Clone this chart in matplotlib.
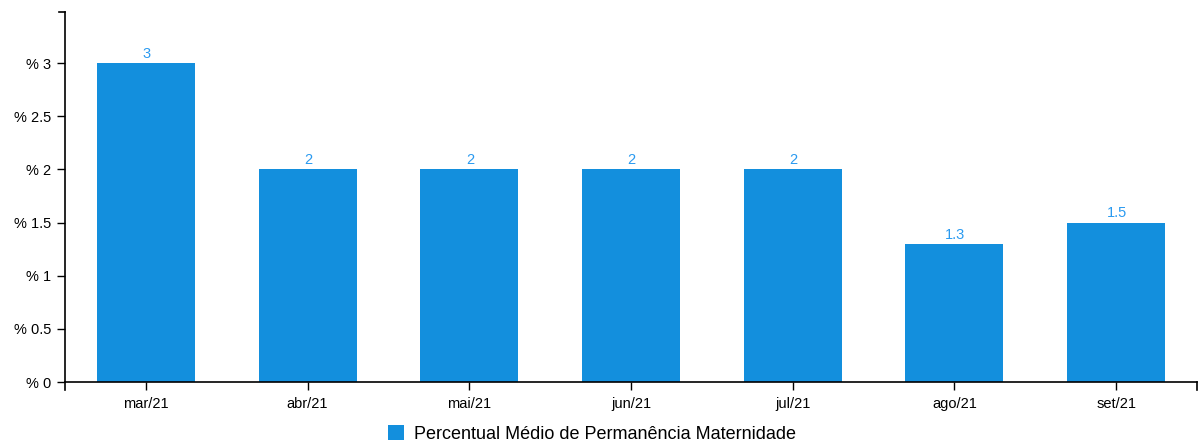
import matplotlib
matplotlib.use('Agg')
from matplotlib import pyplot as plt
from matplotlib.patches import Patch

plt.rcParams['font.family'] = ['Liberation Sans', 'DejaVu Sans']

# data
meses = ['mar/21', 'abr/21', 'mai/21', 'jun/21', 'jul/21', 'ago/21', 'set/21']
percentual = [3, 2, 2, 2, 2, 1.3, 1.5]
y_ticks = [0, 0.5, 1, 1.5, 2, 2.5, 3]

bar_color = '#138fdd'
label_color = '#2a9af0'

W, H = 1199, 445
fig = plt.figure(figsize=(W / 100, H / 100), dpi=100)
ax = fig.add_axes([65 / W, (H - 382) / H, (1197 - 65) / W, (382 - 12) / H])

x = list(range(len(meses)))
bars = ax.bar(x, percentual, width=0.606, color=bar_color)
for xi, v in zip(x, percentual):
    ax.text(xi + 0.005, v + 0.02, f'{v:g}', ha='center', va='bottom',
            color=label_color, fontsize=10.5)

ax.set_xlim(-0.5, len(meses) - 0.5)
ax.set_ylim(0, 3.48)
ax.set_xticks(x)
ax.set_xticklabels(meses)
ax.set_yticks(y_ticks)
ax.set_yticklabels([f'% {t:g}' for t in y_ticks])
ax.tick_params(axis='both', direction='out', length=6, width=1, labelsize=10.5,
               colors='black')
ax.tick_params(axis='x', pad=5)
ax.tick_params(axis='y', pad=4)

for s in ['top', 'right']:
    ax.spines[s].set_visible(False)
for s in ['left', 'bottom']:
    ax.spines[s].set_linewidth(1.2)

# outer ticks at the axis ends (d3 style)
ax.plot([0, 0], [0, -0.022], transform=ax.transAxes, color='black', lw=1.2, clip_on=False)
ax.plot([1, 1], [0, -0.022], transform=ax.transAxes, color='black', lw=1.2, clip_on=False)
ax.plot([0, -0.0053], [1, 1], transform=ax.transAxes, color='black', lw=1.2, clip_on=False)

handle = Patch(facecolor=bar_color, edgecolor='none')
fig.legend([handle], ['Percentual Médio de Permanência Maternidade'],
           loc='center', bbox_to_anchor=(592 / W, (H - 434) / H),
           frameon=False, fontsize=13, handlelength=0.85, handleheight=0.85,
           handletextpad=0.55, borderpad=0)

fig.savefig('out.png', dpi=100)
